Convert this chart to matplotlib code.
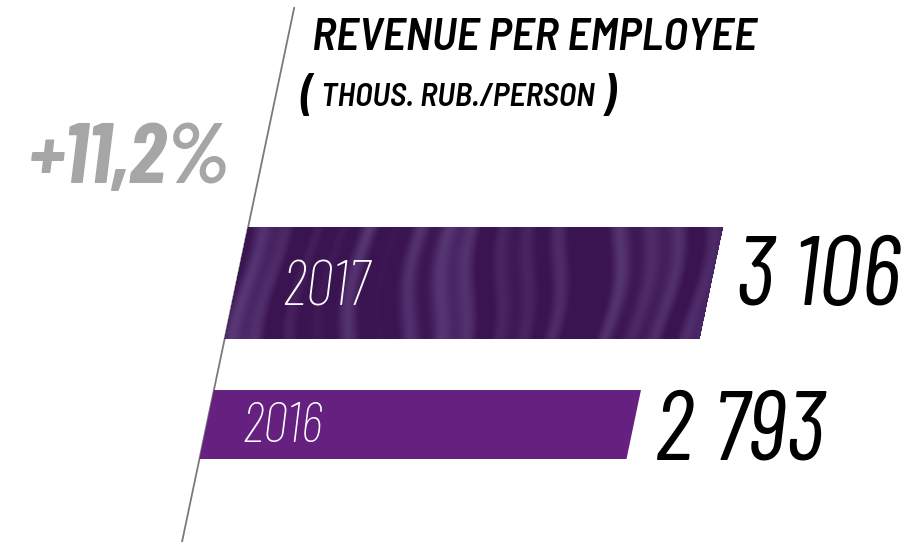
import numpy as np
import matplotlib
matplotlib.use("Agg")
import matplotlib.pyplot as plt
from matplotlib.transforms import Affine2D

# data
years = ["2017", "2016"]
values = [3106, 2793]
value_labels = ["3 106", "2 793"]
growth_label = "+11,2%"
title = "REVENUE PER EMPLOYEE"
subtitle = "THOUS. RUB./PERSON"

# layout (figure pixels, y down)
W, H = 920, 542
bar_centers = [283, 424.5]
bar_heights = [112, 69]
year_offsets = [50, 39]
year_baselines = [305, 442]
value_baselines = [305, 460]
year_sizes = [46, 41]
slope = 0.21          # horizontal shift per pixel of height
px_per_unit = 0.1529
base_x, base_y = 182, 542

FONT = ["Barlow Condensed", "Roboto Condensed", "DejaVu Sans"]
FONT_SEMI = ["Barlow Semi Condensed", "Barlow Condensed", "Roboto Condensed", "DejaVu Sans"]
PURPLE = "#66207f"
DARK = "#3a1450"
LIGHT = "#5c3c7a"

fig = plt.figure(figsize=(W / 100, H / 100), dpi=100)
ax = fig.add_axes([0, 0, 1, 1])
ax.set_xlim(0, W)
ax.set_ylim(H, 0)
ax.axis("off")

# value axis sheared along the slanted base line
shear = Affine2D(np.array([[px_per_unit, -slope, base_x + slope * base_y],
                           [0, 1, 0],
                           [0, 0, 1]]))
tr = shear + ax.transData

# slanted base line
ax.plot([0, 0], [8, H], color="#7a7a7a", lw=1.3, transform=tr, zorder=1)

bars = ax.barh(bar_centers, values, height=bar_heights,
               color=[DARK, PURPLE], transform=tr, zorder=2)
ax.set_xlim(0, W)
ax.set_ylim(H, 0)

# fabric-like streaks on the 2017 bar, masked to the bar shape
xx = np.arange(W)[None, :]
yy = np.arange(H)[:, None]
xs = xx + 0.16 * yy + 7 * np.sin(yy / 30.0 + xx / 80.0)
streak = (0.5 * np.sin(xs / 4.5) + 0.45 * np.sin(xs / 8.0 + 1.3)
          + 0.4 * np.sin(xs / 15.0 + 0.4) + 0.35 * np.sin(xx / 37.0 + 2.0))
streak = np.clip((streak + 0.6) / 1.9, 0, 1) ** 1.4
c0 = np.array(matplotlib.colors.to_rgb(DARK))
c1 = np.array(matplotlib.colors.to_rgb(LIGHT))
rgba = np.zeros((H, W, 4))
rgba[..., :3] = c0 + (c1 - c0) * streak[..., None]
bar_path = bars[0].get_transform().transform_path(bars[0].get_path())
pts = np.column_stack([np.repeat(np.arange(H), W), np.tile(np.arange(W), H)])
disp = np.column_stack([pts[:, 1] + 0.5, H - pts[:, 0] - 0.5])
mask = bar_path.contains_points(disp, radius=-0.5).reshape(H, W)
rgba[..., 3] = mask * 1.0
ax.imshow(rgba, extent=(0, W, H, 0), zorder=3, aspect="auto",
          interpolation="nearest")
ax.set_xlim(0, W)
ax.set_ylim(H, 0)

# year labels inside bars and values after bars
for i, yr in enumerate(years):
    ax.text(year_offsets[i] / px_per_unit, year_baselines[i], yr,
            transform=tr, color="white", fontsize=year_sizes[i], family=FONT,
            style="italic", weight=200, va="baseline", ha="left", zorder=5)
    ax.text(values[i] + 29 / px_per_unit, value_baselines[i],
            value_labels[i], transform=tr, color="black", fontsize=71,
            family=FONT, style="italic", weight=400, va="baseline",
            ha="left", zorder=5)

# titles
ax.text(312, 50, title, fontsize=33, family=FONT_SEMI, style="italic",
        weight=600, va="baseline", ha="left")
ax.text(299, 111, "(", fontsize=36, family=FONT, style="italic",
        weight=600, va="baseline", ha="left")
ax.text(321, 106, subtitle, fontsize=23.5, family=FONT_SEMI, style="italic",
        weight=600, va="baseline", ha="left")
ax.text(602, 111, ")", fontsize=36, family=FONT, style="italic",
        weight=600, va="baseline", ha="left")
ax.text(28, 183, growth_label, fontsize=62, family=FONT, style="italic",
        weight=700, color="#a6a6a6", va="baseline", ha="left")

fig.savefig("out.png", dpi=100)
